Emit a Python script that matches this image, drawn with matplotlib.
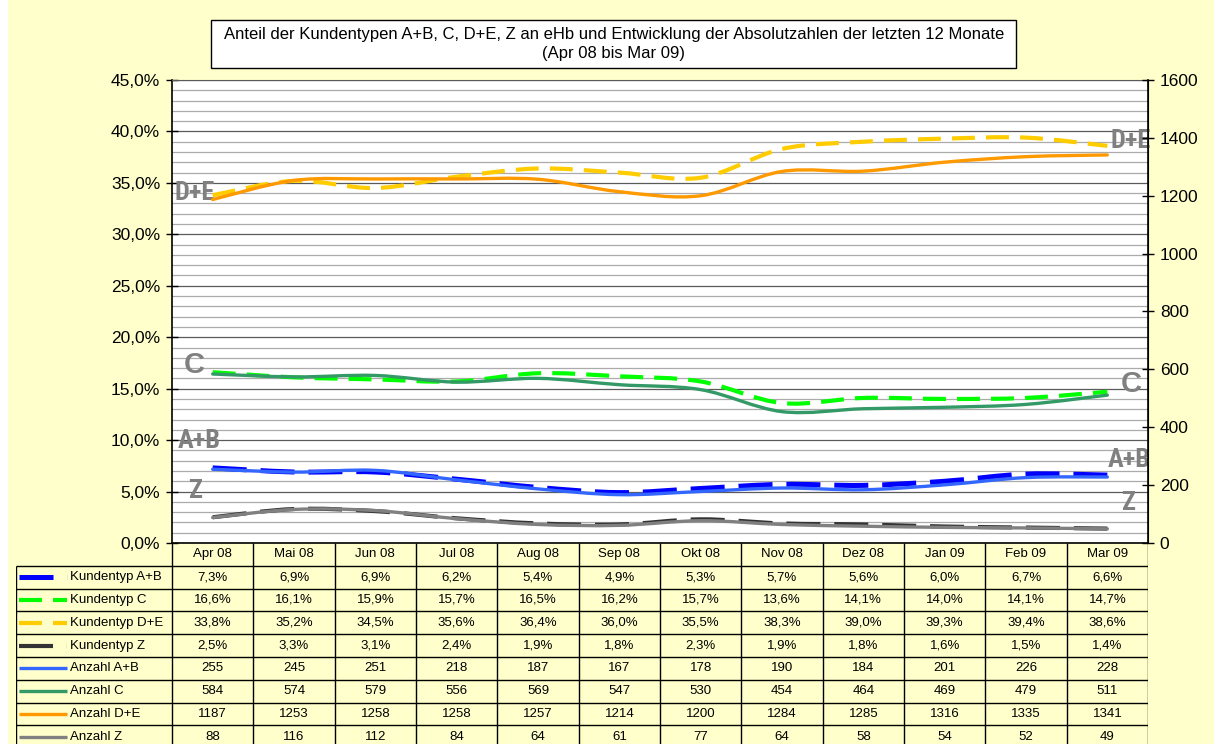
import numpy as np
import matplotlib
matplotlib.use("Agg")
import matplotlib.pyplot as plt
from matplotlib.path import Path
from matplotlib.patches import PathPatch, Rectangle

plt.rcParams["font.family"] = ["Liberation Sans", "DejaVu Sans"]
plt.rcParams["lines.scale_dashes"] = False

months = ["Apr 08", "Mai 08", "Jun 08", "Jul 08", "Aug 08", "Sep 08",
          "Okt 08", "Nov 08", "Dez 08", "Jan 09", "Feb 09", "Mar 09"]
kt_ab = [7.3, 6.9, 6.9, 6.2, 5.4, 4.9, 5.3, 5.7, 5.6, 6.0, 6.7, 6.6]
kt_c = [16.6, 16.1, 15.9, 15.7, 16.5, 16.2, 15.7, 13.6, 14.1, 14.0, 14.1, 14.7]
kt_de = [33.8, 35.2, 34.5, 35.6, 36.4, 36.0, 35.5, 38.3, 39.0, 39.3, 39.4, 38.6]
kt_z = [2.5, 3.3, 3.1, 2.4, 1.9, 1.8, 2.3, 1.9, 1.8, 1.6, 1.5, 1.4]
n_ab = [255, 245, 251, 218, 187, 167, 178, 190, 184, 201, 226, 228]
n_c = [584, 574, 579, 556, 569, 547, 530, 454, 464, 469, 479, 511]
n_de = [1187, 1253, 1258, 1258, 1257, 1214, 1200, 1284, 1285, 1316, 1335, 1341]
n_z = [88, 116, 112, 84, 64, 61, 77, 64, 58, 54, 52, 49]

title = ("Anteil der Kundentypen A+B, C, D+E, Z an eHb und Entwicklung der "
         "Absolutzahlen der letzten 12 Monate\n(Apr 08 bis Mar 09)")

W, H = 1214, 744
BG = "#FFFFCC"
LONG = (0, (24.5, 10))
MED = (0, (16.5, 8))

# name, values, axis (0 = %, 1 = Anzahl), color, lw, linestyle
series = [
    ("Kundentyp A+B", kt_ab, 0, "#0000FF", 3.6, LONG),
    ("Kundentyp C", kt_c, 0, "#00FF00", 3.0, MED),
    ("Kundentyp D+E", kt_de, 0, "#FFCC00", 3.0, MED),
    ("Kundentyp Z", kt_z, 0, "#333333", 3.0, LONG),
    ("Anzahl A+B", n_ab, 1, "#3366FF", 2.4, "-"),
    ("Anzahl C", n_c, 1, "#339966", 2.4, "-"),
    ("Anzahl D+E", n_de, 1, "#FF9900", 2.4, "-"),
    ("Anzahl Z", n_z, 1, "#808080", 2.4, "-"),
]


def smooth_path(x, y):
    # Bezier-Kurve durch die Punkte (wie Excel "geglättete Linie")
    pts = np.column_stack([x, y]).astype(float)
    n = len(pts)
    verts, codes = [pts[0]], [Path.MOVETO]
    for i in range(n - 1):
        p0 = pts[i - 1] if i > 0 else pts[i]
        p1, p2 = pts[i], pts[i + 1]
        p3 = pts[i + 2] if i + 2 < n else pts[i + 1]
        verts += [p1 + (p2 - p0) / 6, p2 - (p3 - p1) / 6, p2]
        codes += [Path.CURVE4] * 3
    return Path(verts, codes)


fig = plt.figure(figsize=(W / 100, H / 100), dpi=100, facecolor=BG)
fig.patches.append(Rectangle((0, 0), 7 / W, 1, transform=fig.transFigure,
                             color="white", zorder=-10))

ax = fig.add_axes([172 / W, 1 - 543 / H, 976 / W, 463 / H])
ax.set_facecolor("white")
ax.set_xlim(-0.5, 11.5)
ax.set_ylim(0, 45)
ax.set_yticks(np.arange(0, 46, 5))
ax.set_yticks(np.arange(0, 46, 1), minor=True)
ax.set_yticklabels([f"{v:.1f}%".replace(".", ",") for v in np.arange(0, 46, 5)])
ax.yaxis.grid(True, which="minor", color="#ababab", lw=0.9)
ax.yaxis.grid(True, which="major", color="#5a5a5a", lw=0.9)
ax.set_axisbelow(True)
ax.set_xticks([])
ax.tick_params(axis="y", which="major", direction="inout", length=9,
               width=1, labelsize=12.5, pad=4)
ax.tick_params(axis="y", which="minor", length=0)
for s in ["left", "bottom"]:
    ax.spines[s].set_color("black")
    ax.spines[s].set_linewidth(1.2)
ax.spines["top"].set_color("#5a5a5a")

ax2 = ax.twinx()
ax2.set_ylim(0, 1600)
ax2.set_yticks(np.arange(0, 1601, 200))
ax2.tick_params(axis="y", direction="inout", length=9, width=1,
                labelsize=12.5, pad=4)
ax2.spines["right"].set_color("black")
ax2.spines["right"].set_linewidth(1.2)
for s in ["left", "top", "bottom"]:
    ax2.spines[s].set_visible(False)

x = np.arange(len(months))
order = [4, 0, 5, 1, 6, 2, 7, 3]
for k in order:
    name, vals, axis, color, lw, ls = series[k]
    target = ax if axis == 0 else ax2
    cap = "round" if ls == "-" else "butt"
    target.add_patch(PathPatch(smooth_path(x, vals), fill=False,
                               edgecolor=color, lw=lw, linestyle=ls,
                               capstyle=cap, joinstyle="round", zorder=3))

narrow = ["Roboto Condensed", "Liberation Sans Narrow", "Roboto", "DejaVu Sans"]
lab = dict(color="#808080", fontweight="bold", ha="center", va="center",
           zorder=5)
ax.text(-0.22, 34.0, "D+E", fontsize=19, family=narrow, **lab)
ax.text(11.29, 39.1, "D+E", fontsize=19, family=narrow, **lab)
ax.text(-0.23, 17.3, "C", fontsize=21, family=["Liberation Sans"], **lab)
ax.text(11.3, 15.5, "C", fontsize=21, family=["Liberation Sans"], **lab)
ax.text(-0.17, 9.9, "A+B", fontsize=19, family=narrow, **lab)
ax.text(11.27, 8.1, "A+B", fontsize=19, family=narrow, **lab)
ax.text(-0.22, 5.05, "Z", fontsize=19, family=narrow, **lab)
ax.text(11.25, 3.9, "Z", fontsize=19, family=narrow, **lab)

# Titel-Box
fig.patches.append(Rectangle((211 / W, 1 - 68 / H), 805 / W, 48 / H,
                             transform=fig.transFigure, facecolor="white",
                             edgecolor="black", lw=1))
fig.text(614 / W, 1 - 44 / H, title, ha="center", va="center",
         fontsize=12, linespacing=1.35)

# Datentabelle
row_h = 22.8
n_rows = len(series) + 1
lab_left = -0.5 - (172 - 16) / (976 / 12)
px = lambda p: -0.5 - (172 - p) / (976 / 12)
tab = fig.add_axes([16 / W, (H - 543 - n_rows * row_h) / H,
                    1132 / W, n_rows * row_h / H])
tab.set_xlim(lab_left, 11.5)
tab.set_ylim(n_rows, 0)
tab.axis("off")
tab.vlines(np.arange(-0.5, 12), 0, n_rows, color="black", lw=1)
tab.vlines(lab_left, 1, n_rows, color="black", lw=1)
tab.hlines(np.arange(1, n_rows), lab_left, 11.5, color="black", lw=1)

for i, m in enumerate(months):
    tab.text(i, 0.5, m, ha="center", va="center", fontsize=9.5)
for r, (name, vals, axis, color, lw, ls) in enumerate(series, start=1):
    for i, v in enumerate(vals):
        s = f"{v:.1f}%".replace(".", ",") if axis == 0 else str(v)
        tab.text(i, r + 0.5, s, ha="center", va="center", fontsize=9.5)
    tab.plot([px(19), px(67)], [r + 0.5, r + 0.5], color=color,
             lw=lw if axis == 0 else 2.4, linestyle=ls,
             solid_capstyle="butt", dash_capstyle="butt")
    tab.text(px(70), r + 0.5, name, ha="left", va="center", fontsize=9.5)

fig.savefig("out.png", dpi=100, facecolor=BG)
